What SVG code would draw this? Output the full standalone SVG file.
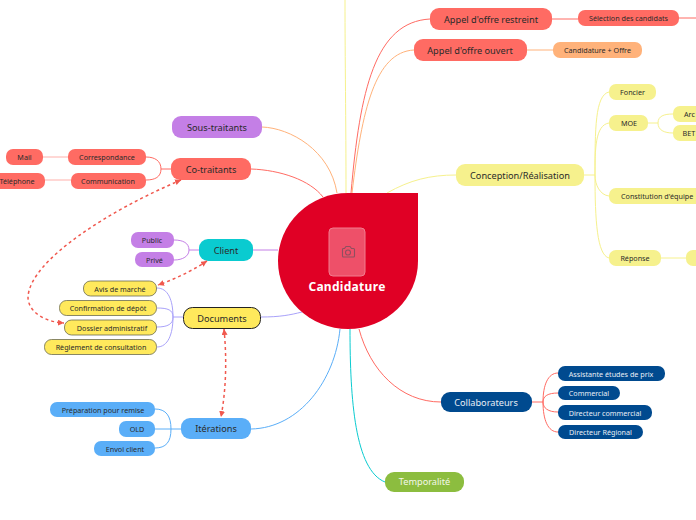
<svg xmlns="http://www.w3.org/2000/svg" width="696" height="520" viewBox="0 0 696 520">
<style>
text{font-family:"Noto Sans","Open Sans",sans-serif;text-anchor:middle;dominant-baseline:central;fill:#2a2a2a}
.l{font-size:9.200px}.s{font-size:7.200px}
.c{fill:none;stroke-width:1}
.d{fill:none;stroke:#F0584E;stroke-width:1.500;stroke-dasharray:3 3}
.red{fill:#FF6B63}.pur{fill:#C47FE6}.yel{fill:#F6F18D}.doc{fill:#FFE95C;stroke:#6b6b50;stroke-width:.8}.blu{fill:#5AAEF8}.nav{fill:#004A8F}
</style>
<defs>
<marker id="a" markerUnits="userSpaceOnUse" markerWidth="7" markerHeight="7" refX="6" refY="3" orient="auto-start-reverse"><path d="M0 0L6 3L0 6Z" fill="#F0584E"/></marker>
</defs>
<g id="connectors">
<path class="c" stroke="#F6F18D" d="M346 193C346 120 345 60 345 0"/>
<path class="c" stroke="#FF6B63" d="M351 193C360 90 375 22 430 19"/>
<path class="c" stroke="#FFB27A" d="M352 193C362 110 375 52 414 50"/>
<path class="c" stroke="#F6F18D" d="M387 193C410 180 430 175 456 175"/>
<path class="c" stroke="#FFB27A" d="M262 127C290 128 330 150 337 193"/>
<path class="c" stroke="#FF6B63" d="M251 169C280 170 310 180 323 197"/>
<path class="c" stroke="#C47FE6" d="M253 250H278"/>
<path class="c" stroke="#A9A2FA" d="M261 317C280 317 290 315 302 312"/>
<path class="c" stroke="#5AAEF8" d="M251 429C300 428 335 380 340 329"/>
<path class="c" stroke="#0ACBD0" d="M350 329C350 400 355 470 385 482"/>
<path class="c" stroke="#FF6B63" d="M359 329C370 370 400 402 441 402"/>
<path class="c" stroke="#FF6B63" stroke-width="1.500" d="M552 19H578"/>
<path class="c" stroke="#FF6B63" d="M679 18H696"/>
<path class="c" stroke="#FFB27A" stroke-width="1.500" d="M527 50H553"/>
<path class="c" stroke="#F6F18D" stroke-width="1.500" d="M584 175H595M595 175C595 130 595 95 609 92M595 175C595 150 595 125 609 123M595 175C595 185 600 195 609 196M595 175C595 220 597 255 609 258M648 123H658M658 123C658 116 664 114 673 114M658 123C658 130 664 133 673 133M661 258H686"/>
<path class="c" stroke="#FFB0AB" stroke-width="1.500" d="M43 157H68M45 180H71"/>
<path class="c" stroke="#FF6B63" d="M171 169H161M146 157C155 157 161 161 161 169C161 177 155 180 146 180"/>
<path class="c" stroke="#C47FE6" d="M199 250H189M174 240C183 240 189 243 189 250C189 256 183 260 174 260"/>
<path class="c" stroke="#A9A2FA" d="M183 317H173M157 288C168 288 173 300 173 317C173 334 168 347 157 347M157 308C168 308 173 310 173 317C173 324 168 327 157 327"/>
<path class="c" stroke="#5AAEF8" d="M181 429H171M155 409C166 409 171 416 171 429C171 442 166 448 155 448M155 429H171"/>
<path class="c" stroke="#FF6B63" stroke-width="1.500" d="M532 402H543"/>
<path class="c" stroke="#FF6B63" d="M543 402C543 385 548 373 558 373M543 402C543 396 548 393 558 393M543 402C543 408 548 412 558 412M543 402C543 420 548 432 558 432"/>
</g>
<g id="center">
<path d="M348 193H418V261A70 68 0 0 1 278 261A70 68 0 0 1 348 193Z" fill="#E00025"/>
<rect x="329" y="228" width="36" height="48" rx="4" fill="#EE5069" stroke="#F27C8F" stroke-width="1"/>
<g fill="none" stroke="#8d5060" stroke-width="1.100"><path d="M342.500 248.500h2l1.500-2h4l1.500 2h2a1 1 0 0 1 1 1v6.500a1 1 0 0 1-1 1h-10a1 1 0 0 1-1-1v-6.500a1 1 0 0 1 1-1z"/><circle cx="348" cy="252.500" r="2.500"/></g>
<text x="347" y="286.500" font-size="12" font-weight="700" letter-spacing=".3" style="fill:#fff">Candidature</text>
</g>
<g id="n-restreint"><rect class="red" x="430" y="8" width="122" height="22" rx="9"/><text class="l" x="491" y="19">Appel d'offre restreint</text></g>
<g id="n-selection"><rect class="red" x="578" y="10" width="101" height="16" rx="7"/><text class="s" x="628.500" y="18">Sélection des candidats</text></g>
<g id="n-ouvert"><rect class="red" x="414" y="39" width="113" height="22" rx="9"/><text class="l" x="470" y="50.500">Appel d'offre ouvert</text></g>
<g id="n-candoffre"><rect fill="#FFB27A" x="553" y="42" width="89" height="16" rx="7"/><text class="s" x="597.500" y="50">Candidature + Offre</text></g>
<g id="n-conception"><rect class="yel" x="456" y="164" width="128" height="22" rx="9"/><text class="l" x="520" y="175">Conception/Réalisation</text></g>
<g id="n-foncier"><rect class="yel" x="609" y="84" width="47" height="16" rx="7"/><text class="s" x="632.500" y="92">Foncier</text></g>
<g id="n-moe"><rect class="yel" x="609" y="115" width="39" height="16" rx="7"/><text class="s" x="629" y="123">MOE</text></g>
<g id="n-arch"><rect class="yel" x="673" y="106" width="50" height="16" rx="7"/><text class="s" x="684" y="114" style="text-anchor:start">Arc</text></g>
<g id="n-bet"><rect class="yel" x="673" y="125" width="50" height="16" rx="7"/><text class="s" x="682.500" y="133" style="text-anchor:start">BET</text></g>
<g id="n-equipe"><rect class="yel" x="609" y="188" width="100" height="16" rx="7"/><text class="s" x="621" y="196" style="text-anchor:start">Constitution d'équipe</text></g>
<g id="n-reponse"><rect class="yel" x="609" y="250" width="52" height="16" rx="7"/><text class="s" x="635" y="258">Réponse</text></g>
<g id="n-reponse2"><rect class="yel" x="686" y="250" width="30" height="16" rx="7"/></g>
<g id="n-soustraitants"><rect class="pur" x="172" y="116" width="90" height="22" rx="9"/><text class="l" x="217" y="127">Sous-traitants</text></g>
<g id="n-cotraitants"><rect class="red" x="171" y="158" width="80" height="22" rx="9"/><text class="l" x="211" y="169">Co-traitants</text></g>
<g id="n-corresp"><rect class="red" x="68" y="149" width="78" height="16" rx="7"/><text class="s" x="107" y="157">Correspondance</text></g>
<g id="n-comm"><rect class="red" x="71" y="173" width="75" height="16" rx="7"/><text class="s" x="108" y="180.500">Communication</text></g>
<g id="n-mail"><rect class="red" x="6" y="149" width="37" height="16" rx="7"/><text class="s" x="24.500" y="157">Mail</text></g>
<g id="n-tel"><rect class="red" x="-12" y="173" width="57" height="16" rx="7"/><text class="s" x="17" y="180.500">Téléphone</text></g>
<g id="n-client"><rect fill="#0ACBD0" x="199" y="239" width="54" height="22" rx="9"/><text class="l" x="226" y="250">Client</text></g>
<g id="n-public"><rect class="pur" x="131" y="232" width="43" height="16" rx="7"/><text class="s" x="152" y="240">Public</text></g>
<g id="n-prive"><rect class="pur" x="135" y="252" width="39" height="15" rx="7"/><text class="s" x="154.500" y="259.500">Privé</text></g>
<g id="n-documents"><rect fill="#FFE95C" stroke="#222" x="183.500" y="307.500" width="77" height="21" rx="9"/><text class="l" x="222" y="318">Documents</text></g>
<g id="n-avis"><rect class="doc" x="83.500" y="281" width="73" height="15" rx="7"/><text class="s" x="120" y="288.500">Avis de marché</text></g>
<g id="n-confirm"><rect class="doc" x="59.500" y="300.500" width="97" height="15" rx="7"/><text class="s" x="108" y="308">Confirmation de dépôt</text></g>
<g id="n-dossier"><rect class="doc" x="64.500" y="320" width="92" height="15" rx="7"/><text class="s" x="112" y="327.500">Dossier administratif</text></g>
<g id="n-reglement"><rect class="doc" x="44.500" y="339.500" width="112" height="15" rx="7"/><text class="s" x="101" y="347">Règlement de consultation</text></g>
<g id="n-iterations"><rect class="blu" x="181" y="418" width="70" height="21" rx="9"/><text class="l" x="216" y="428.500">Itérations</text></g>
<g id="n-prep"><rect class="blu" x="50" y="402" width="105" height="15" rx="7"/><text class="s" x="103" y="409.500">Préparation pour remise</text></g>
<g id="n-old"><rect class="blu" x="119" y="421" width="36" height="16" rx="7"/><text class="s" x="137" y="429">OLD</text></g>
<g id="n-envoi"><rect class="blu" x="94" y="441" width="61" height="15" rx="7"/><text class="s" x="125" y="448.500">Envoi client</text></g>
<g id="n-collab"><rect class="nav" x="441" y="392" width="91" height="20" rx="9"/><text class="l" x="486" y="402.500" style="fill:#e8eef6">Collaborateurs</text></g>
<g id="n-assist"><rect class="nav" x="558" y="366" width="107" height="15" rx="7"/><text class="s" x="611" y="373.500" style="fill:#e8eef6">Assistante études de prix</text></g>
<g id="n-commercial"><rect class="nav" x="558" y="386" width="62" height="14" rx="7"/><text class="s" x="589" y="393" style="fill:#e8eef6">Commercial</text></g>
<g id="n-dircom"><rect class="nav" x="558" y="405" width="94" height="15" rx="7"/><text class="s" x="605" y="412.500" style="fill:#e8eef6">Directeur commercial</text></g>
<g id="n-dirreg"><rect class="nav" x="558" y="425" width="85" height="14" rx="7"/><text class="s" x="600.500" y="432" style="fill:#e8eef6">Directeur Régional</text></g>
<g id="n-temporalite"><rect fill="#8CBD3F" x="385" y="472" width="79" height="20" rx="9"/><text class="l" x="424.500" y="481.500" style="fill:#f4f8ea">Temporalité</text></g>
<g id="relations">
<path class="d" marker-start="url(#a)" marker-end="url(#a)" d="M181 180C110 210 30 260 28 297C28 312 45 322 64 323"/>
<path class="d" marker-start="url(#a)" marker-end="url(#a)" d="M207 261C190 272 175 279 158 285"/>
<path class="d" marker-start="url(#a)" marker-end="url(#a)" d="M224 329C227 360 226 390 221 417"/>
</g>
</svg>
